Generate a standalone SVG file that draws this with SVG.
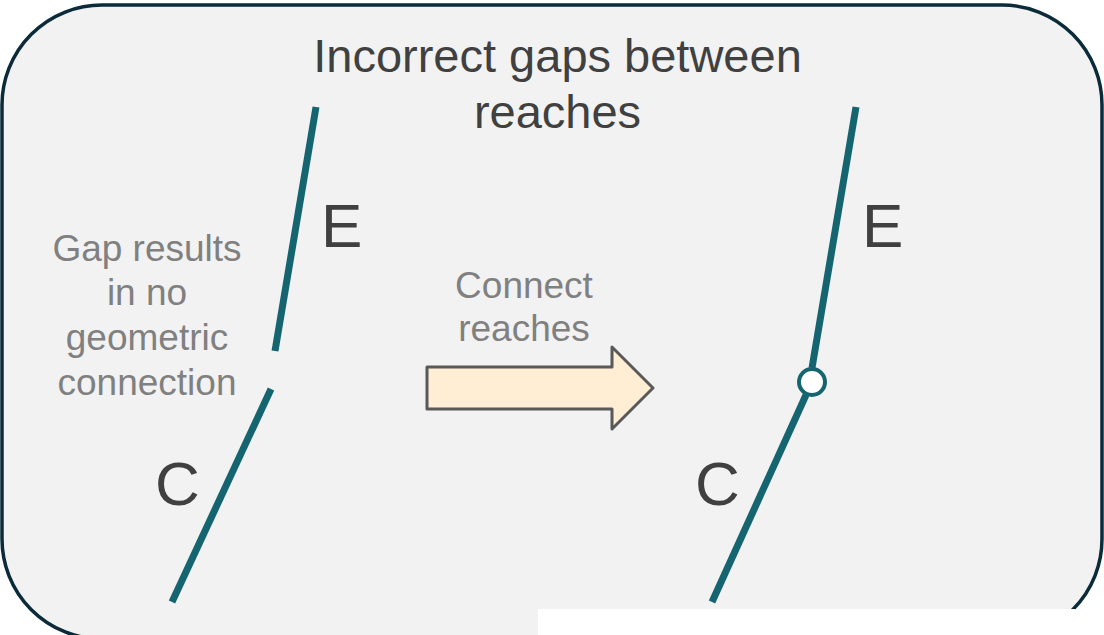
<svg xmlns="http://www.w3.org/2000/svg" width="1104" height="635" viewBox="0 0 1104 635">
  <style>
    .reach { stroke: #156570; stroke-width: 7; fill: none; }
    .title { font-family: "Liberation Sans", Arial, sans-serif; font-size: 47px; fill: #404040; text-anchor: middle; }
    .note { font-family: "Liberation Sans", Arial, sans-serif; font-size: 37px; fill: #808080; text-anchor: middle; }
    .label { font-family: "Liberation Sans", Arial, sans-serif; font-size: 62px; fill: #404040; }
  </style>
  <rect x="0" y="0" width="1104" height="635" fill="#ffffff"/>
  <g id="frame">
    <rect x="2" y="5" width="1100" height="634" rx="100" ry="100" fill="#f2f2f2" stroke="#0c2b3a" stroke-width="3.5"/>
  </g>
  <g id="title">
    <text class="title" x="557.5" y="72">Incorrect gaps between</text>
    <text class="title" x="557.5" y="128">reaches</text>
  </g>
  <g id="gap-note">
    <text class="note" x="147" y="261">Gap results</text>
    <text class="note" x="147" y="305">in no</text>
    <text class="note" x="147" y="350">geometric</text>
    <text class="note" x="147" y="395">connection</text>
  </g>
  <g id="connect-note">
    <text class="note" x="524" y="298">Connect</text>
    <text class="note" x="524" y="341">reaches</text>
  </g>
  <g id="label-E-left"><text class="label" x="321" y="247">E</text></g>
  <g id="label-C-left"><text class="label" x="155" y="505">C</text></g>
  <g id="label-E-right"><text class="label" x="862" y="247">E</text></g>
  <g id="label-C-right"><text class="label" x="695" y="505">C</text></g>
  <g id="connectors">
    <line class="reach" x1="316" y1="107" x2="275" y2="351"/>
    <line class="reach" x1="271" y1="389" x2="172" y2="602"/>
    <line class="reach" x1="856" y1="107" x2="812" y2="368"/>
    <line class="reach" x1="806" y1="395" x2="712" y2="602"/>
  </g>
  <g id="junction">
    <circle cx="812" cy="382" r="13" fill="#ffffff" stroke="#156570" stroke-width="4"/>
  </g>
  <g id="arrow">
    <polygon points="427,367 612,367 612,347 653,388 612,429 612,409 427,409" fill="#ffedd4" stroke="#595959" stroke-width="3" stroke-linejoin="round"/>
  </g>
  <rect x="538" y="609" width="566" height="26" fill="#ffffff"/>
</svg>
